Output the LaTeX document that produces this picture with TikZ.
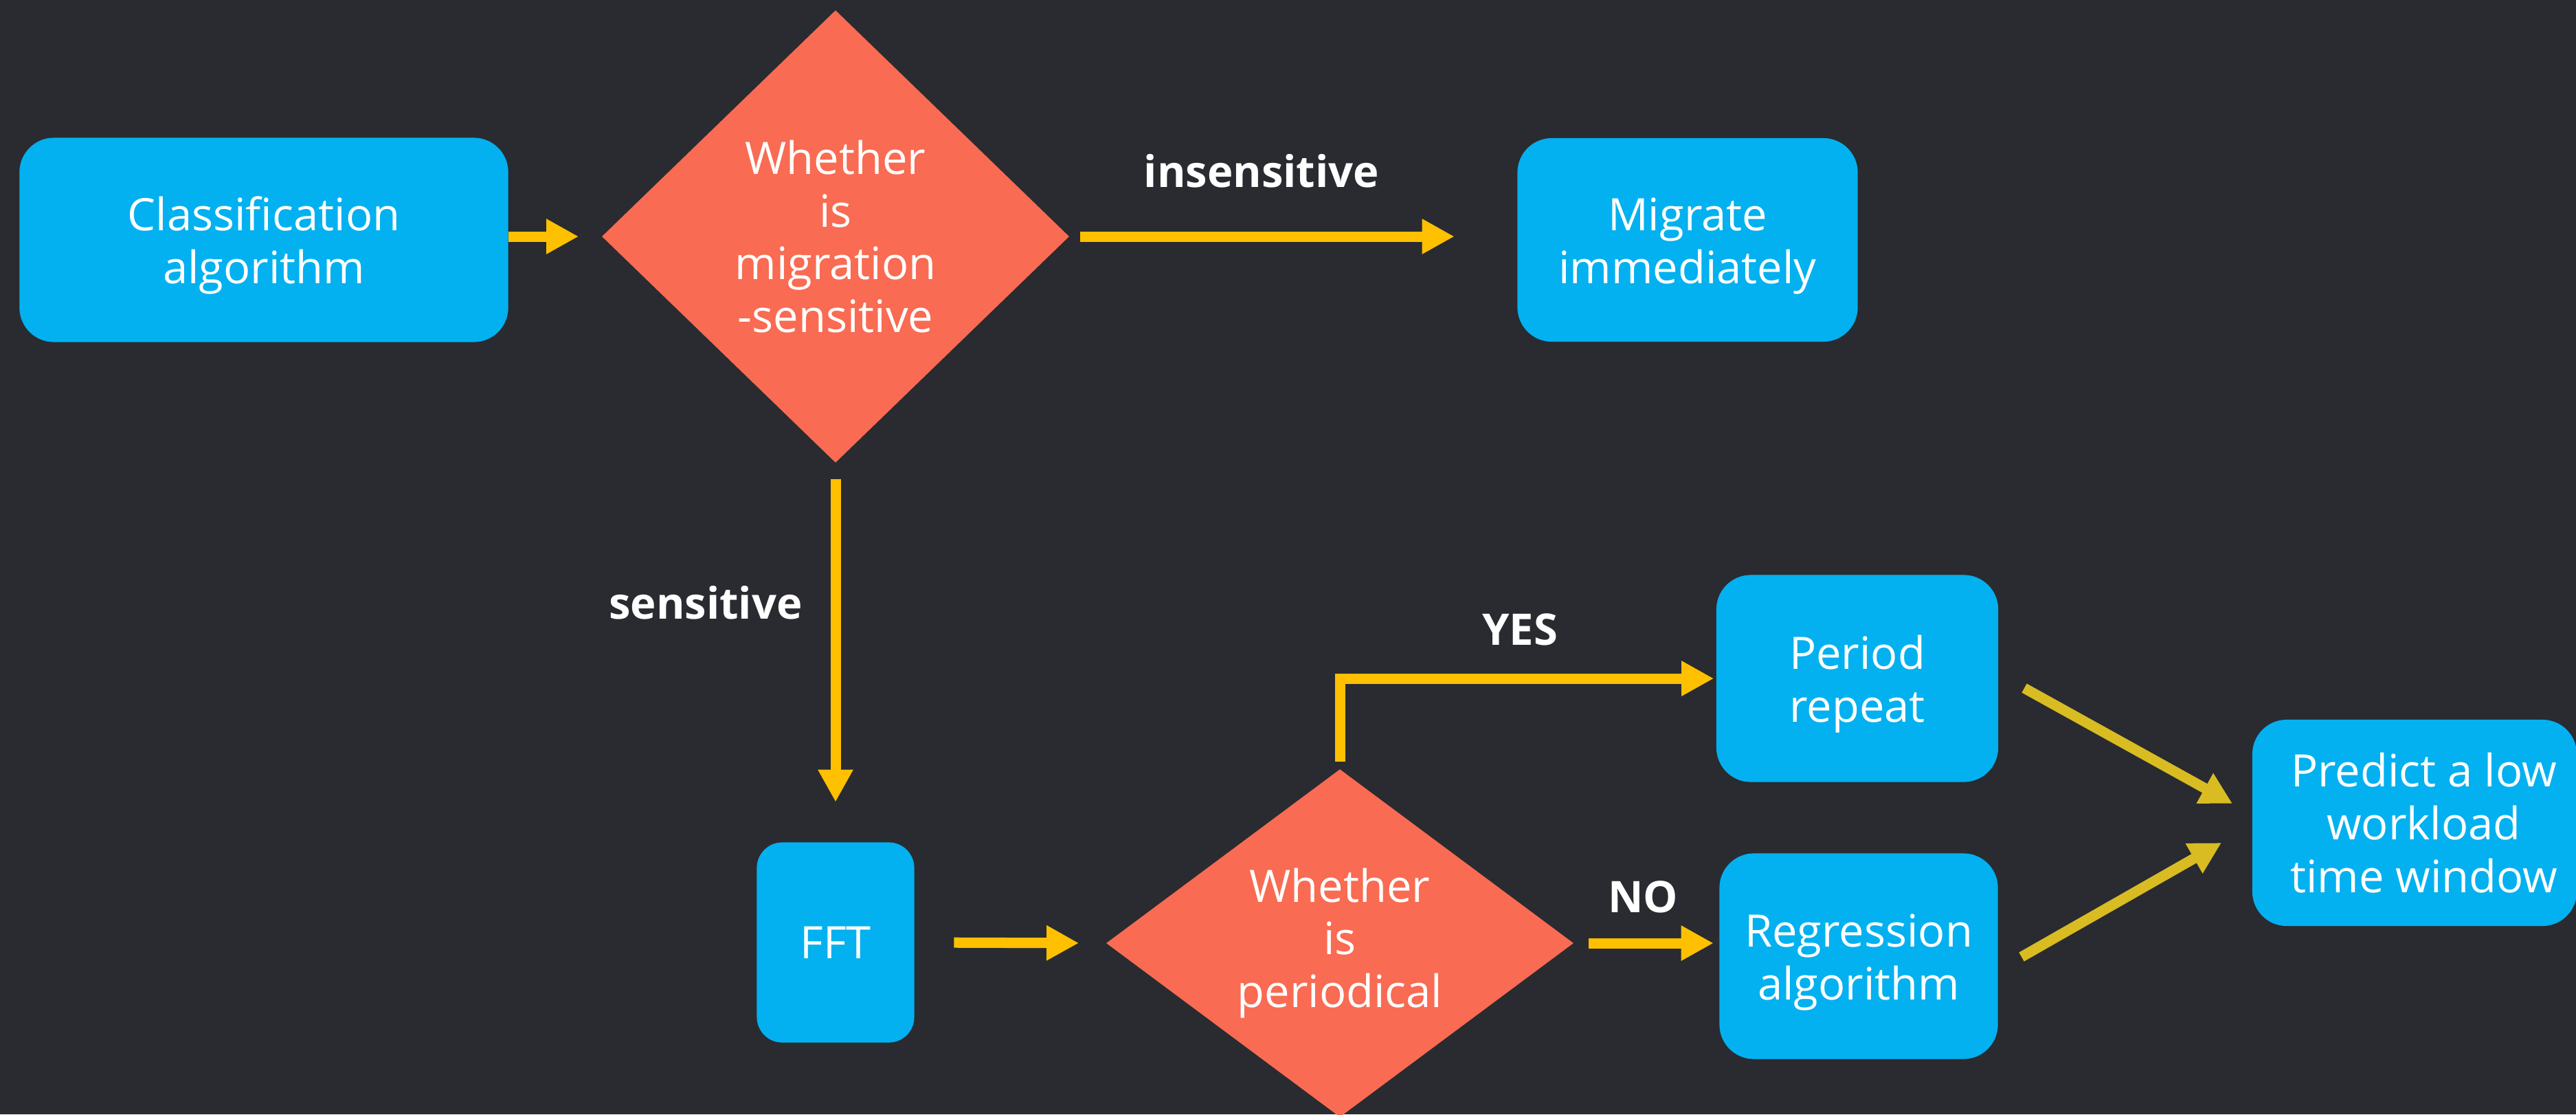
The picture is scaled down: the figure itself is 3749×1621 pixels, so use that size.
\documentclass[tikz,border=0pt]{standalone}
\usepackage{fontspec}
\setmainfont{Open Sans}
\usetikzlibrary{shapes.geometric,arrows.meta,calc}

\definecolor{bgdark}{RGB}{41,43,48}
\definecolor{boxblue}{RGB}{3,177,240}
\definecolor{decisioncoral}{RGB}{249,107,82}
\definecolor{flowyellow}{RGB}{255,192,0}
\definecolor{mergeyellow}{RGB}{216,188,34}

% taller first line, so two-line captions sit a little lower in their box
\newcommand{\capstrut}{\rule{0pt}{0.65cm}}
% left padding that moves a centred line slightly to the right
\newcommand{\lpad}{\hspace*{0.27cm}}

\tikzset{
  stepbox/.style={fill=boxblue, rounded corners=0.5cm, align=center,
    text=white, inner sep=0pt,
    font=\fontsize{18.5}{21.8}\selectfont},
  decision/.style={diamond, fill=decisioncoral, align=center, text=white,
    inner sep=0pt, font=\fontsize{18.5}{21.8}\selectfont},
  flow/.style={draw=flowyellow, line width=0.15cm,
    -{Triangle[length=0.47cm,width=0.48cm]}},
  merge/.style={draw=mergeyellow, line width=0.15cm,
    -{Triangle[length=0.46cm,width=0.47cm]}},
  branchlabel/.style={text=white, font=\bfseries\fontsize{18}{21}\selectfont}
}

\begin{document}
\begin{tikzpicture}[x=0.01cm, y=-0.01cm]
  % canvas
  \fill[bgdark] (0,0) rectangle (3749,1621);
  \useasboundingbox (0,0) rectangle (3749,1621);

  % process boxes
  \node[stepbox, minimum width=7.11cm, minimum height=2.97cm] (cls) at (384,349)
    {\capstrut Classification\\algorithm};
  \node[stepbox, minimum width=4.95cm, minimum height=2.96cm] (mig) at (2456,349)
    {\capstrut Migrate\\immediately};
  \node[stepbox, rounded corners=0.37cm, minimum width=2.29cm, minimum height=2.91cm]
    (fft) at (1216,1371) {FFT};
  \node[stepbox, minimum width=4.10cm, minimum height=3.01cm] (per) at (2703,987)
    {\capstrut Period\\repeat};
  \node[stepbox, minimum width=4.05cm, minimum height=2.99cm] (reg) at (2705,1391)
    {\capstrut Regression\\algorithm};
  \node[stepbox, minimum width=4.72cm, minimum height=3.00cm] (pred) at (3514,1197)
    {\lpad Predict a low\\\lpad workload\\\lpad time window};

  % decisions
  \node[decision, aspect=1.03, minimum width=6.80cm, minimum height=6.58cm]
    (dsens) at (1216,344) {Whether\\is\\migration\\-sensitive};
  \node[decision, aspect=1.34, minimum width=6.80cm, minimum height=5.06cm]
    (dper) at (1950,1372) {Whether\\is\\periodical};

  % connectors
  \draw[flow, shorten >=0.33cm] (dsens.west -| cls.east) -- (dsens.west);
  \draw[flow, shorten <=0.15cm, shorten >=0.91cm] (dsens.east) -- (dsens.east -| mig.west);
  \draw[flow, shorten <=0.23cm, shorten >=0.58cm] (dsens.south) -- (fft.north);
  \draw[flow, shorten <=0.57cm, shorten >=0.39cm] (fft.east) -- (dper.west);
  \draw[flow, shorten <=0.10cm, shorten >=0.03cm]
    (dper.north) |- (per.west);
  \draw[flow, shorten <=0.21cm, shorten >=0.08cm] (dper.east) -- (dper.east -| reg.west);

  % arrows into the prediction box
  \coordinate (perout) at (2946,1001);
  \coordinate (predin1) at (3249,1169);
  \coordinate (regout) at (2942,1392);
  \coordinate (predin2) at (3233,1226);
  \draw[merge] (perout) -- (predin1);
  \draw[merge] (regout) -- (predin2);

  % branch labels
  \node[branchlabel] (linsens) at (1836,249) {insensitive};
  \node[branchlabel] (lsens) at (1027,877) {sensitive};
  \node[branchlabel] (lyes) at (2212,916) {YES};
  \node[branchlabel] (lno) at (2391,1305) {NO};
\end{tikzpicture}
\end{document}
